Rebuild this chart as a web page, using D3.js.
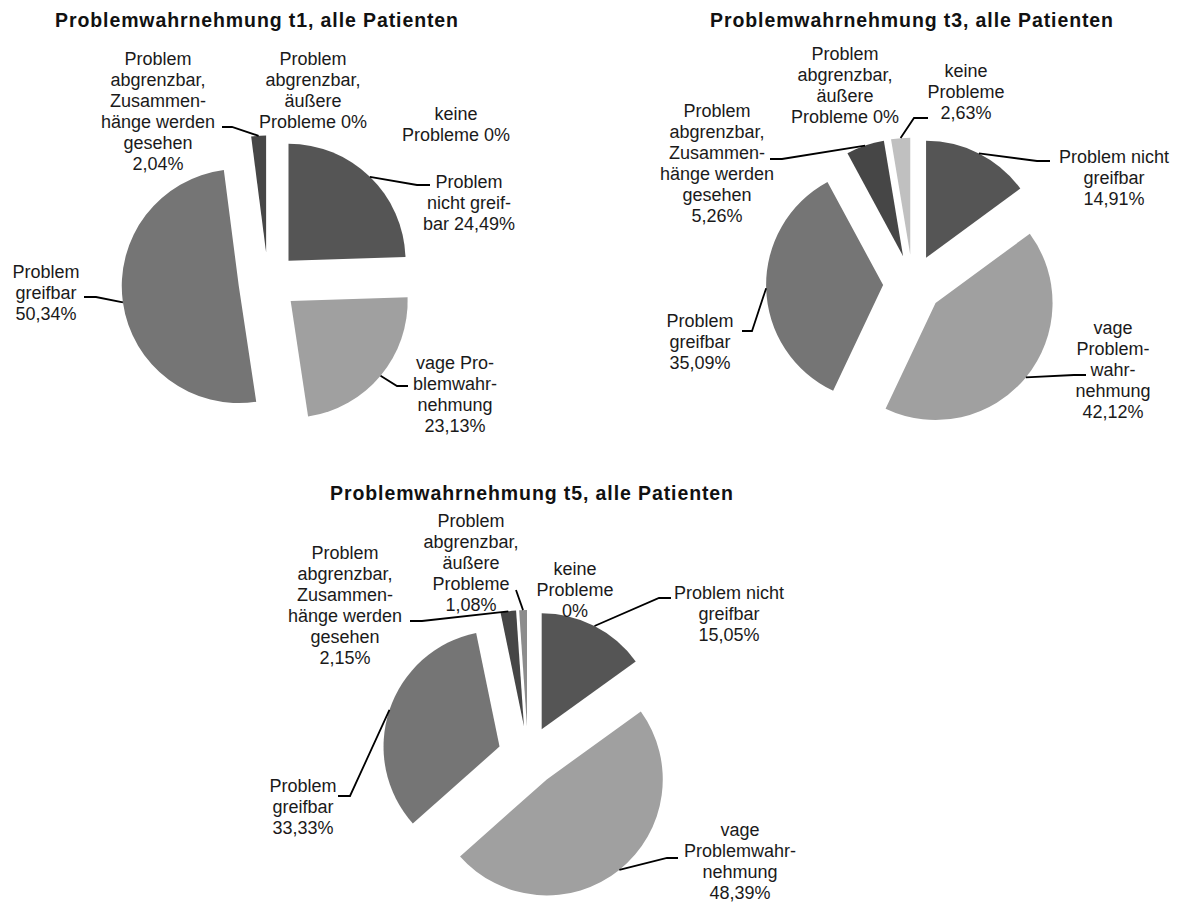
<!DOCTYPE html>
<html>
<head>
<meta charset="utf-8">
<script src="https://cdn.jsdelivr.net/npm/d3@7/dist/d3.min.js"></script>
<style>
  html, body { margin: 0; padding: 0; background: #ffffff; }
  svg { display: block; }
  .title { font-family: "Liberation Sans", Arial, sans-serif; font-weight: bold; font-size: 19.5px; fill: #111; letter-spacing: 0.9px; }
  .lbl { font-family: "Liberation Sans", Arial, sans-serif; font-size: 18px; fill: #1a1a1a; }
  .leader { fill: none; stroke: #000; stroke-width: 1.8; }
</style>
</head>
<body>
<script>
// Categories in drawing order (clockwise from 12 o'clock)
const categories = [
  "Problem nicht greifbar",
  "vage Problemwahrnehmung",
  "Problem greifbar",
  "Problem abgrenzbar, Zusammenhänge werden gesehen",
  "Problem abgrenzbar, äußere Probleme",
  "keine Probleme"
];

// Percentages per measurement time
const valuesT1 = [24.49, 23.13, 50.34, 2.04, 0, 0];
const valuesT3 = [14.91, 42.12, 35.09, 5.26, 0, 2.63];
const valuesT5 = [15.05, 48.39, 33.33, 2.15, 1.08, 0];

const titles = [
  "Problemwahrnehmung t1, alle Patienten",
  "Problemwahrnehmung t3, alle Patienten",
  "Problemwahrnehmung t5, alle Patienten"
];

// Label line breaks per category; {v} is replaced by the formatted value
const labelLinesT1 = [
  ["Problem", "nicht greif-", "bar {v}"],
  ["vage Pro-", "blemwahr-", "nehmung", "{v}"],
  ["Problem", "greifbar", "{v}"],
  ["Problem", "abgrenzbar,", "Zusammen-", "hänge werden", "gesehen", "{v}"],
  ["Problem", "abgrenzbar,", "äußere", "Probleme {v}"],
  ["keine", "Probleme {v}"]
];
const labelLinesT3 = [
  ["Problem nicht", "greifbar", "{v}"],
  ["vage", "Problem-", "wahr-", "nehmung", "{v}"],
  ["Problem", "greifbar", "{v}"],
  ["Problem", "abgrenzbar,", "Zusammen-", "hänge werden", "gesehen", "{v}"],
  ["Problem", "abgrenzbar,", "äußere", "Probleme {v}"],
  ["keine", "Probleme", "{v}"]
];
const labelLinesT5 = [
  ["Problem nicht", "greifbar", "{v}"],
  ["vage", "Problemwahr-", "nehmung", "{v}"],
  ["Problem", "greifbar", "{v}"],
  ["Problem", "abgrenzbar,", "Zusammen-", "hänge werden", "gesehen", "{v}"],
  ["Problem", "abgrenzbar,", "äußere", "Probleme", "{v}"],
  ["keine", "Probleme", "{v}"]
];

const colors = ["#555555", "#a0a0a0", "#757575", "#464646", "#8c8c8c", "#c0c0c0"];

// Layout: pie centre, radius, explosion distance, title and label placement
const charts = [
  {
    values: valuesT1, title: titles[0], lines: labelLinesT1,
    cx: 268, cy: 282, r: 117, explode: 29.5, titleX: 257, titleY: 27,
    labels: [
      { x: 469, y: 181, leader: [[417, 185], [430, 185]] },
      { x: 455, y: 362, leader: [[397, 386], [408, 386]] },
      { x: 46,  y: 271, leader: [[96, 297], [84, 297]] },
      { x: 158, y: 58,  leader: [[232, 127], [222, 127]] },
      { x: 313, y: 58,  leader: null },
      { x: 456, y: 113, leader: null }
    ]
  },
  {
    values: valuesT3, title: titles[1], lines: labelLinesT3,
    cx: 912.7, cy: 284.2, r: 117, explode: 29.6, titleX: 912, titleY: 27,
    labels: [
      { x: 1114, y: 156, leader: [[1037, 161], [1050, 161]] },
      { x: 1113, y: 327, leader: [[1074, 375], [1086, 375]] },
      { x: 700,  y: 320, leader: [[752, 331], [742, 331]] },
      { x: 717,  y: 110, leader: [[782, 159], [770, 159]] },
      { x: 845,  y: 53,  leader: null },
      { x: 966,  y: 70,  leader: [[914, 118], [928, 118]] }
    ]
  },
  {
    values: valuesT5, title: titles[2], lines: labelLinesT5,
    cx: 528, cy: 756, r: 116, explode: 30, titleX: 532, titleY: 500,
    labels: [
      { x: 729, y: 592, leader: [[659, 598], [671, 598]] },
      { x: 740, y: 829, leader: [[667, 858], [678, 858]] },
      { x: 303, y: 785, leader: [[350, 796], [338, 796]] },
      { x: 345, y: 552, leader: [[422, 621], [410, 621]] },
      { x: 471, y: 520, leader: [[516, 590]] },
      { x: 575, y: 568, leader: null }
    ]
  }
];

const fmtValue = v => v === 0 ? "0%" : d3.format(".2f")(v).replace(".", ",") + "%";

const svg = d3.select("body").append("svg")
  .attr("width", 1182).attr("height", 904);

const LINE_H = 21;

charts.forEach(ch => {
  const g = svg.append("g");
  const pie = d3.pie().sort(null).value(d => d);
  const slices = pie(ch.values);
  const arcGen = d3.arc().innerRadius(0).outerRadius(ch.r);

  // exploded slices
  slices.forEach((s, i) => {
    if (s.value === 0) return;
    const mid = (s.startAngle + s.endAngle) / 2;
    const ox = ch.cx + ch.explode * Math.sin(mid);
    const oy = ch.cy - ch.explode * Math.cos(mid);
    g.append("path")
      .attr("d", arcGen(s))
      .attr("transform", `translate(${ox},${oy})`)
      .attr("fill", colors[i]);
  });

  // leader lines from the outer arc at each slice's mid angle
  slices.forEach((s, i) => {
    const lab = ch.labels[i];
    if (!lab.leader || s.value === 0) return;
    const mid = (s.startAngle + s.endAngle) / 2;
    const ox = ch.cx + ch.explode * Math.sin(mid);
    const oy = ch.cy - ch.explode * Math.cos(mid);
    const start = [ox + ch.r * Math.sin(mid), oy - ch.r * Math.cos(mid)];
    g.append("path")
      .attr("class", "leader")
      .attr("d", d3.line()([start, ...lab.leader]));
  });

  // data labels
  slices.forEach((s, i) => {
    const lab = ch.labels[i];
    const txt = g.append("text").attr("class", "lbl").attr("text-anchor", "middle");
    ch.lines[i].forEach((ln, k) => {
      txt.append("tspan")
        .attr("x", lab.x)
        .attr("y", lab.y + 6.5 + k * LINE_H)
        .text(ln.replace("{v}", fmtValue(s.value)));
    });
  });

  // title
  g.append("text")
    .attr("class", "title")
    .attr("x", ch.titleX)
    .attr("y", ch.titleY)
    .attr("text-anchor", "middle")
    .text(ch.title);
});
</script>
</body>
</html>
